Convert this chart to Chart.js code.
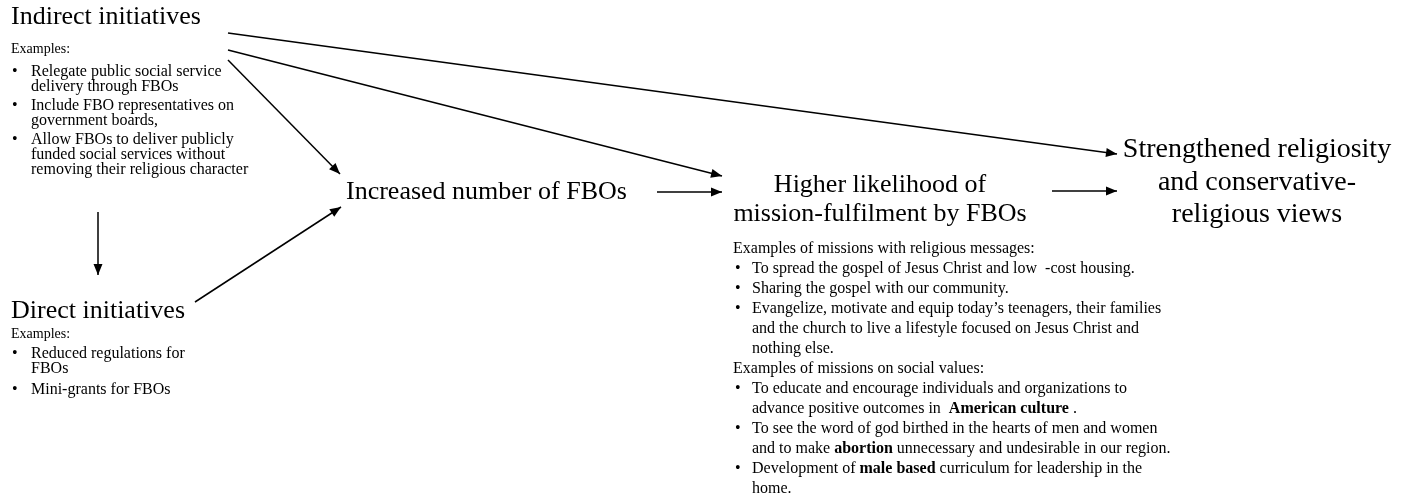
<!DOCTYPE html>
<html>
<head>
<meta charset="utf-8">
<script src="https://cdn.jsdelivr.net/npm/chart.js@4/dist/chart.umd.min.js"></script>
<style>
  body { margin: 0; background: #fff; }
</style>
</head>
<body>
<canvas id="chart" width="1403" height="496"></canvas>
<script>
// arrows of the diagram, in chart units (x 0..1403, y 0..496 top-down)
const arrowFromX = [228, 228, 228, 98, 195, 657, 1052];
const arrowFromY = [33, 50, 60, 212, 302, 192, 191];
const arrowToX = [1117, 722, 340, 98, 341, 722, 1117];
const arrowToY = [154, 176, 174, 275, 207, 192, 191];

// boxes with big text
const nodeLines = [
  ['Indirect initiatives'],
  ['Direct initiatives'],
  ['Increased number of FBOs'],
  ['Higher likelihood of', 'mission-fulfilment by FBOs'],
  ['Strengthened religiosity', 'and conservative-', 'religious views']
];
const nodeX = [11, 11, 346, 880, 1257];
const nodeY = [24, 318, 199, 192, 157];
const nodeAlign = ['left', 'left', 'left', 'center', 'center'];

// examples under the initiatives
const indirectExamples = [
  ['Relegate public social service', 'delivery through FBOs'],
  ['Include FBO representatives on', 'government boards,'],
  ['Allow FBOs to deliver publicly', 'funded social services without', 'removing their religious character']
];
const directExamples = [
  ['Reduced regulations for', 'FBOs'],
  ['Mini-grants for FBOs']
];

// mission examples (** = bold)
const religiousMissions = [
  ['To spread the gospel of Jesus Christ and low  -cost housing.'],
  ['Sharing the gospel with our community.'],
  ['Evangelize, motivate and equip today\u2019s teenagers, their families',
   'and the church to live a lifestyle focused on Jesus Christ and',
   'nothing else.']
];
const socialMissions = [
  ['To educate and encourage individuals and organizations to',
   'advance positive outcomes in  **American culture** .'],
  ['To see the word of god birthed in the hearts of men and women',
   'and to make **abortion** unnecessary and undesirable in our region.'],
  ['Development of **male based** curriculum for leadership in the',
   'home.']
];

const serif = '"Liberation Serif", "Times New Roman", serif';

function px(chart, x, y) {
  return [chart.scales.x.getPixelForValue(x), chart.scales.y.getPixelForValue(y)];
}

// writes a line with **bold** pieces
function writeRich(ctx, text, x, y, size) {
  const parts = text.split('**');
  let cx = x;
  parts.forEach((part, i) => {
    ctx.font = (i % 2 === 1 ? 'bold ' : '') + size + 'px ' + serif;
    ctx.fillText(part, cx, y);
    cx += ctx.measureText(part).width;
  });
}

// bullet list, returns baseline after the last line
function writeBullets(chart, items, bulletX, textX, startY, lineGap, itemGap, size) {
  const ctx = chart.ctx;
  let y = startY;
  items.forEach((lines, i) => {
    if (i > 0) y += itemGap;
    lines.forEach((line, j) => {
      if (j > 0) y += lineGap;
      const p = px(chart, bulletX, y);
      const t = px(chart, textX, y);
      if (j === 0) {
        ctx.font = size + 'px ' + serif;
        ctx.fillText('\u2022', p[0], p[1]);
      }
      writeRich(ctx, line, t[0], t[1], size);
    });
  });
  return y;
}

const diagramPlugin = {
  id: 'diagram',
  afterDatasetsDraw(chart) {
    const ctx = chart.ctx;
    ctx.save();
    ctx.fillStyle = '#000';

    // arrow heads
    chart.data.datasets.forEach((ds, i) => {
      const pts = chart.getDatasetMeta(i).data;
      const a = pts[0], b = pts[1];
      const ang = Math.atan2(b.y - a.y, b.x - a.x);
      ctx.beginPath();
      ctx.moveTo(b.x, b.y);
      ctx.lineTo(b.x - 11 * Math.cos(ang) + 4.5 * Math.sin(ang), b.y - 11 * Math.sin(ang) - 4.5 * Math.cos(ang));
      ctx.lineTo(b.x - 11 * Math.cos(ang) - 4.5 * Math.sin(ang), b.y - 11 * Math.sin(ang) + 4.5 * Math.cos(ang));
      ctx.closePath();
      ctx.fill();
    });

    // big labels
    ctx.textBaseline = 'alphabetic';
    nodeLines.forEach((lines, i) => {
      const size = i === 4 ? 28 : 26;
      const gap = i === 4 ? 32.5 : 29;
      ctx.font = size + 'px ' + serif;
      ctx.textAlign = nodeAlign[i];
      lines.forEach((line, j) => {
        const p = px(chart, nodeX[i], nodeY[i] + j * gap);
        ctx.fillText(line, p[0], p[1]);
      });
    });

    ctx.textAlign = 'left';
    ctx.font = '14px ' + serif;
    let p = px(chart, 11, 53);
    ctx.fillText('Examples:', p[0], p[1]);
    writeBullets(chart, indirectExamples, 12, 31, 76, 15, 19, 16);

    ctx.font = '14px ' + serif;
    p = px(chart, 11, 338);
    ctx.fillText('Examples:', p[0], p[1]);
    writeBullets(chart, directExamples, 12, 31, 358, 15, 21, 16);

    ctx.font = '16px ' + serif;
    p = px(chart, 733, 253);
    ctx.fillText('Examples of missions with religious messages:', p[0], p[1]);
    let last = writeBullets(chart, religiousMissions, 735, 752, 273, 20, 20, 16);
    ctx.font = '16px ' + serif;
    p = px(chart, 733, last + 20);
    ctx.fillText('Examples of missions on social values:', p[0], p[1]);
    writeBullets(chart, socialMissions, 735, 752, last + 40, 20, 20, 16);

    ctx.restore();
  }
};

const datasets = arrowFromX.map((x, i) => ({
  data: [{ x: x, y: arrowFromY[i] }, { x: arrowToX[i], y: arrowToY[i] }],
  showLine: true,
  borderColor: '#000',
  borderWidth: 1.5,
  pointRadius: 0,
  fill: false
}));

new Chart(document.getElementById('chart').getContext('2d'), {
  type: 'scatter',
  data: { datasets: datasets },
  options: {
    responsive: false,
    animation: false,
    layout: { padding: 0 },
    plugins: { legend: { display: false }, tooltip: { enabled: false } },
    scales: {
      x: { type: 'linear', min: 0, max: 1403, display: false },
      y: { type: 'linear', min: 0, max: 496, reverse: true, display: false }
    }
  },
  plugins: [diagramPlugin]
});
</script>
</body>
</html>
